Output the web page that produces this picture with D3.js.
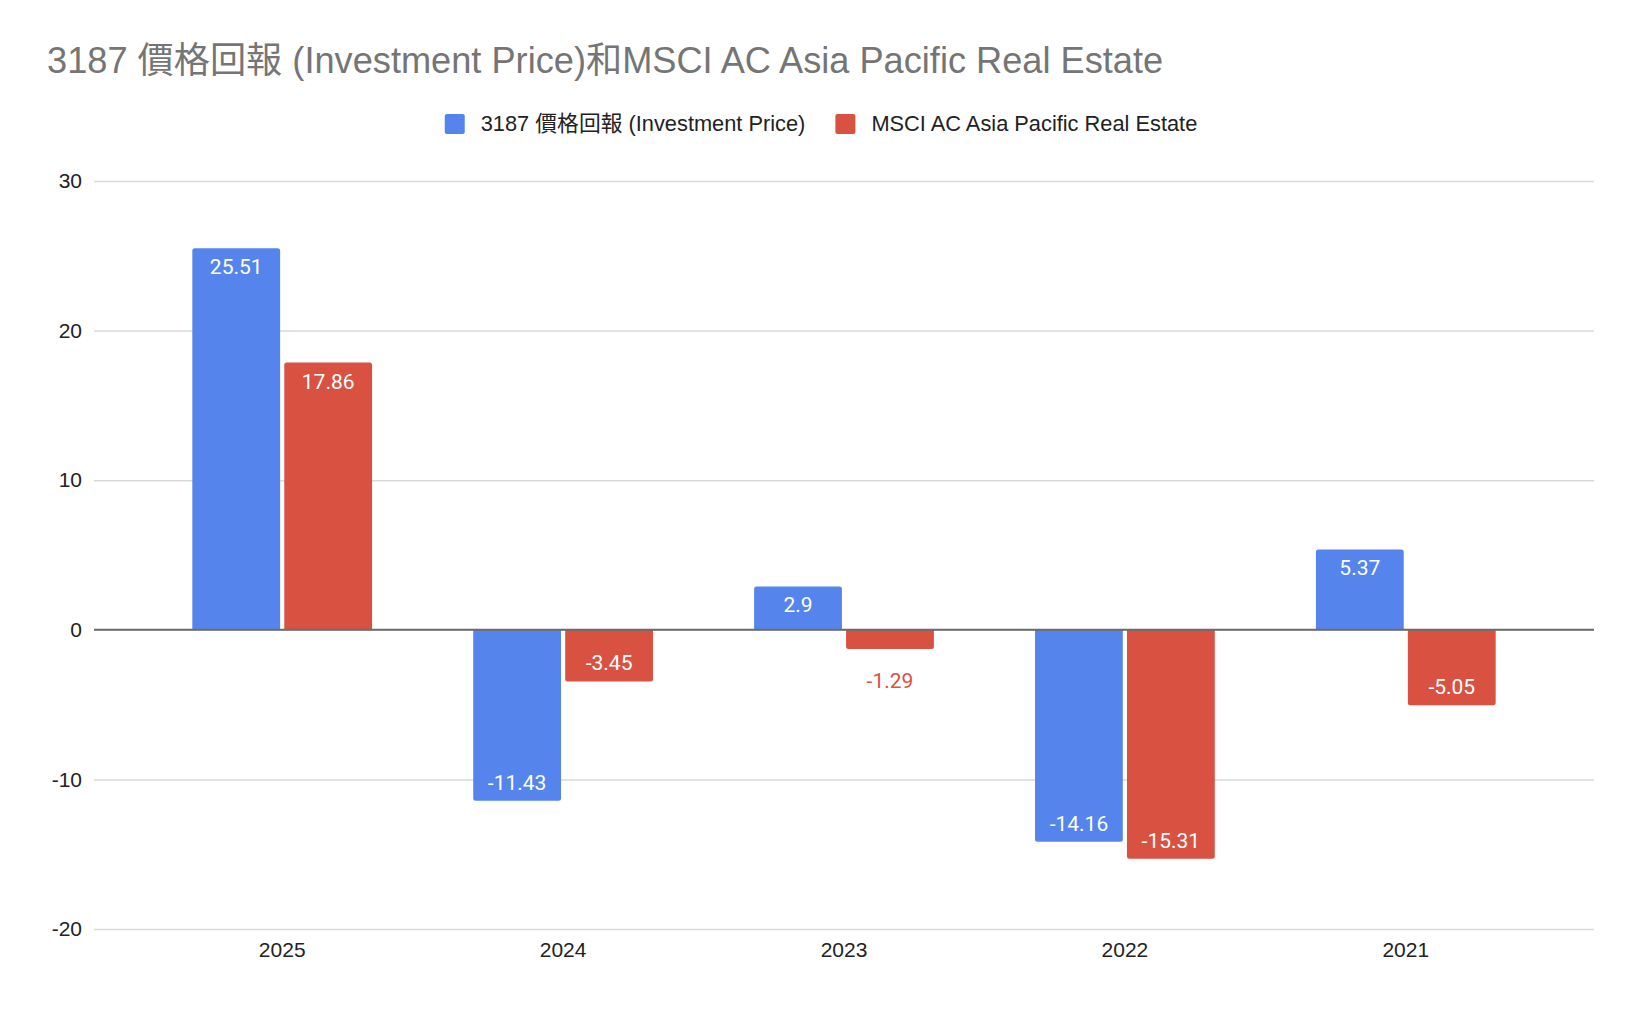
<!DOCTYPE html>
<html>
<head>
<meta charset="utf-8">
<script src="https://cdn.jsdelivr.net/npm/d3@7"></script>
<style>
	body { margin: 0; background: #fff; }
	svg { display: block; font-family: 'Liberation Sans', Arial, 'Noto Sans CJK TC', sans-serif; }
</style>
</head>
<body>
<div id="chart"></div>
<script>
const years = ['2025', '2024', '2023', '2022', '2021']
const seriesNames = ['3187 價格回報 (Investment Price)', 'MSCI AC Asia Pacific Real Estate']
const fundValues = [25.51, -11.43, 2.9, -14.16, 5.37]
const indexValues = [17.86, -3.45, -1.29, -15.31, -5.05]
const yTicks = [-20, -10, 0, 10, 20, 30]
const colors = ['#5585ec', '#d95141']
const title = '3187 價格回報 (Investment Price)和MSCI AC Asia Pacific Real Estate'

const width = 1642
const height = 1010
const margin = { top: 181, right: 48, bottom: 81, left: 94 }

const rows = years.map((year, i) => ({
	year,
	values: [fundValues[i], indexValues[i]]
}))

const svg = d3
	.select('#chart')
	.append('svg')
	.attr('width', width)
	.attr('height', height)

svg
	.append('text')
	.attr('x', 47)
	.attr('y', 73)
	.style('font-size', '36.2px')
	.style('fill', '#757575')
	.text(title)

// legend, centred on the page
const legend = svg.append('g').classed('legend', true)
let lx = 0
seriesNames.forEach((name, i) => {
	const item = legend.append('g').attr('transform', `translate(${lx},0)`)
	item
		.append('rect')
		.attr('x', 0)
		.attr('y', 114)
		.attr('width', 20)
		.attr('height', 20)
		.attr('rx', 2)
		.style('fill', colors[i])
	const t = item
		.append('text')
		.attr('x', 36)
		.attr('y', 131)
		.style('font-size', '21.8px')
		.style('fill', '#222')
		.text(name)
	lx += 36 + t.node().getComputedTextLength() + 30
})
const legendWidth = lx - 30
legend.attr('transform', `translate(${821 - legendWidth / 2},0)`)

const x0 = d3
	.scaleBand()
	.domain(years)
	.range([margin.left, width - margin.right])
	.paddingInner(0.36)
	.paddingOuter(0.35)

const x1 = d3
	.scaleBand()
	.domain(d3.range(seriesNames.length))
	.range([0, x0.bandwidth()])
	.paddingInner(0.045)

const y = d3
	.scaleLinear()
	.domain([d3.min(yTicks), d3.max(yTicks)])
	.range([height - margin.bottom, margin.top])

const yAxis = g =>
	g
		.attr('transform', `translate(${margin.left},0)`)
		.call(
			d3
				.axisLeft(y)
				.tickValues(yTicks)
				.tickFormat(d => String(d))
				.tickSize(-(width - margin.left - margin.right))
				.tickPadding(12)
		)
		.call(g => g.select('.domain').remove())
		.call(g =>
			g
				.selectAll('.tick line')
				.style('stroke', '#d9d9d9')
				.style('stroke-width', 1.5)
		)
		.call(g =>
			g
				.selectAll('.tick text')
				.style('font-size', '21px')
				.style('fill', '#222')
		)

const xAxis = g =>
	g
		.attr('transform', `translate(0,${height - margin.bottom})`)
		.call(d3.axisBottom(x0).tickSize(0).tickPadding(13))
		.call(g => g.select('.domain').remove())
		.call(g =>
			g
				.selectAll('.tick text')
				.style('font-size', '21px')
				.style('fill', '#222')
		)

svg.append('g').classed('yAxis', true).call(yAxis)
svg.append('g').classed('xAxis', true).call(xAxis)

// bar with rounded corners on the far end only
const barPath = (x, w, v) => {
	const y0 = y(0)
	const y1 = y(v)
	const r = Math.min(2.5, Math.abs(y1 - y0) / 2)
	const s = v >= 0 ? 1 : -1
	return `M${x},${y0} V${y1 + s * r} Q${x},${y1} ${x + r},${y1} H${x + w - r} Q${x + w},${y1} ${x + w},${y1 + s * r} V${y0} Z`
}

const groups = svg
	.append('g')
	.classed('bars', true)
	.selectAll('g')
	.data(rows)
	.join('g')
	.attr('transform', d => `translate(${x0(d.year)},0)`)

groups
	.selectAll('path')
	.data(d => d.values)
	.join('path')
	.attr('d', (v, i) => barPath(x1(i), x1.bandwidth(), v))
	.style('fill', (v, i) => colors[i])

// zero line on top of bars
svg
	.append('line')
	.attr('x1', margin.left)
	.attr('x2', width - margin.right)
	.attr('y1', y(0))
	.attr('y2', y(0))
	.style('stroke', '#6b6b6b')
	.style('stroke-width', 2)

groups
	.selectAll('text')
	.data(d => d.values)
	.join('text')
	.attr('x', (v, i) => x1(i) + x1.bandwidth() / 2)
	.attr('y', v => {
		const inside = Math.abs(y(v) - y(0)) > 40
		const end = y(v)
		if (inside) return v >= 0 ? end + 19 + 7 : end - 18 + 7
		return v >= 0 ? end - 32 + 7 : end + 32 + 7
	})
	.attr('text-anchor', 'middle')
	.style('font-family', 'Roboto, sans-serif')
	.style('font-size', '21px')
	.style('fill', (v, i) => (Math.abs(y(v) - y(0)) > 40 ? '#fff' : colors[i]))
	.text(v => v)
</script>
</body>
</html>
